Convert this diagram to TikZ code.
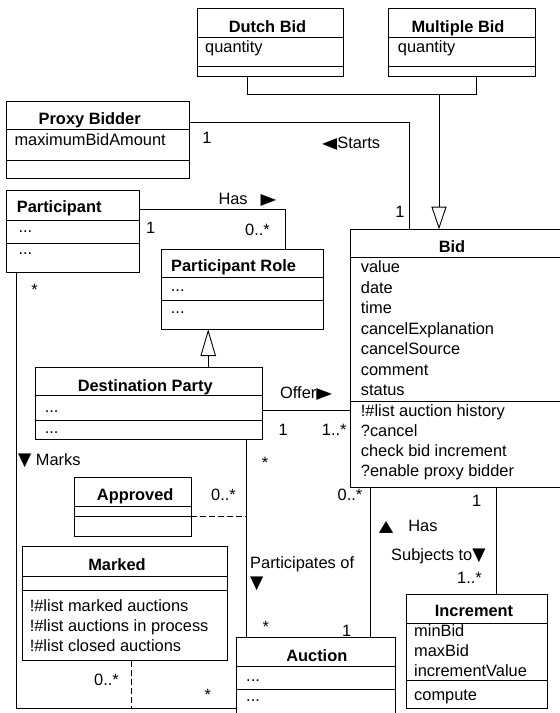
\documentclass[tikz,border=0pt]{standalone}
\usepackage{graphicx}
\usepackage{fontspec}
\setmainfont{Liberation Sans}
\newfontfamily\symfont{DejaVu Sans}
\usetikzlibrary{arrows.meta}

\newcommand{\umlfont}{\fontsize{16.4}{20}\selectfont}
\newcommand{\triright}{\scalebox{1.25}[0.95]{\symfont ▶}}
\newcommand{\trileft}{\scalebox{1.2}[0.95]{\symfont ◀}}
\newcommand{\tridown}{\scalebox{1.05}[1.1]{\symfont ▼}}
\newcommand{\triup}{\scalebox{1.15}[0.95]{\symfont ▲}}

\tikzstyle{classbox} = [rectangle, draw=black, line width=0.9pt, anchor=north west, inner sep=0pt, outer sep=0pt]
\tikzstyle{classname} = [font=\umlfont\bfseries, inner sep=0pt, anchor=base]
\tikzstyle{members} = [inner sep=0pt, anchor=north west, align=left, execute at begin node={\rule{0pt}{12pt}}]
\tikzstyle{lbl} = [inner sep=0pt, anchor=base west]
\tikzstyle{mult} = [inner sep=0pt, anchor=base]
\tikzstyle{assoc} = [line width=0.9pt]
\tikzstyle{dep} = [assoc, dash pattern=on 6pt off 3pt]
\tikzstyle{inherit} = [assoc, -{Triangle[open, length=22.6pt, width=15pt]}]

\begin{document}
\begin{tikzpicture}[x=1pt, y=-1pt, font=\umlfont]
\clip (0,0) rectangle (560,713);

% classes
\node (dutch) [classbox, minimum width=146pt, minimum height=68pt] at (197,8) {};
\node (multiple) [classbox, minimum width=147pt, minimum height=68pt] at (388,8) {};
\node (proxy) [classbox, minimum width=182.3pt, minimum height=76.6pt] at (6.7,101.7) {};
\node (participant) [classbox, minimum width=132.6pt, minimum height=82.3pt] at (6.7,190) {};
\node (role) [classbox, minimum width=161.5pt, minimum height=80.3pt] at (161.7,249) {};
\node (dest) [classbox, minimum width=227pt, minimum height=72.3pt] at (35.7,367) {};
\node (bid) [classbox, minimum width=230pt, minimum height=258pt] at (350.7,229.3) {};
\node (approved) [classbox, minimum width=117pt, minimum height=59.4pt] at (74,477.3) {};
\node (marked) [classbox, minimum width=205pt, minimum height=114.7pt] at (22.7,546) {};
\node (auction) [classbox, minimum width=158.3pt, minimum height=90pt] at (236.7,637) {};
\node (increment) [classbox, minimum width=140.5pt, minimum height=114.3pt] at (406.5,594) {};

% compartments
\draw [assoc] ([yshift=-29pt]dutch.north west) -- ([yshift=-29pt]dutch.north east) ([yshift=-58pt]dutch.north west) -- ([yshift=-58pt]dutch.north east);
\draw [assoc] ([yshift=-29pt]multiple.north west) -- ([yshift=-29pt]multiple.north east) ([yshift=-58pt]multiple.north west) -- ([yshift=-58pt]multiple.north east);
\draw [assoc] ([yshift=-27.6pt]proxy.north west) -- ([yshift=-27.6pt]proxy.north east) ([yshift=-58.3pt]proxy.north west) -- ([yshift=-58.3pt]proxy.north east);
\draw [assoc] ([yshift=-30.7pt]participant.north west) -- ([yshift=-30.7pt]participant.north east) ([yshift=-53.3pt]participant.north west) -- ([yshift=-53.3pt]participant.north east);
\draw [assoc] ([yshift=-28.3pt]role.north west) -- ([yshift=-28.3pt]role.north east) ([yshift=-51.7pt]role.north west) -- ([yshift=-51.7pt]role.north east);
\draw [assoc] ([yshift=-28.7pt]dest.north west) -- ([yshift=-28.7pt]dest.north east) ([yshift=-53pt]dest.north west) -- ([yshift=-53pt]dest.north east);
\draw [assoc] ([yshift=-28.4pt]bid.north west) -- ([yshift=-28.4pt]bid.north east) ([yshift=-172.4pt]bid.north west) -- ([yshift=-172.4pt]bid.north east);
\draw [assoc] ([yshift=-29.4pt]approved.north west) -- ([yshift=-29.4pt]approved.north east) ([yshift=-39.4pt]approved.north west) -- ([yshift=-39.4pt]approved.north east);
\draw [assoc] ([yshift=-30pt]marked.north west) -- ([yshift=-30pt]marked.north east) ([yshift=-44.7pt]marked.north west) -- ([yshift=-44.7pt]marked.north east);
\draw [assoc] ([yshift=-29.7pt]auction.north west) -- ([yshift=-29.7pt]auction.north east) ([yshift=-52pt]auction.north west) -- ([yshift=-52pt]auction.north east);
\draw [assoc] ([yshift=-29.3pt]increment.north west) -- ([yshift=-29.3pt]increment.north east) ([yshift=-86pt]increment.north west) -- ([yshift=-86pt]increment.north east);

% class names
\node (dutchname) [classname] at (267.5,32.3) {Dutch Bid};
\node (multiplename) [classname] at (458,32.3) {Multiple Bid};
\node (proxyname) [classname] at (89.7,124) {Proxy Bidder};
\node (participantname) [classname] at (59.2,212.3) {Participant};
\node (rolename) [classname] at (233.6,271.7) {Participant Role};
\node (destname) [classname] at (145.2,391.7) {Destination Party};
\node (bidname) [classname] at (452,252.7) {Bid};
\node (approvedname) [classname] at (135.2,500.7) {Approved};
\node (markedname) [classname] at (117,570) {Marked};
\node (auctionname) [classname] at (316.8,661) {Auction};
\node (incrementname) [classname] at (474,616.7) {Increment};

% attributes and operations
\node (dutchattr) [members] at (205,40.5) {quantity};
\node (multipleattr) [members] at (397.7,40.5) {quantity};
\node (proxyattr) [members] at (14.3,133.5) {maximumBidAmount};
\node (participantattr) [members] at (18.3,220) {...};
\node (participantops) [members] at (18.3,242.5) {...};
\node (roleattr) [members] at (170.7,279) {...};
\node (roleops) [members] at (170.7,301) {...};
\node (destattr) [members] at (44.6,400.7) {...};
\node (destops) [members] at (44.6,421.3) {...};
\node (bidattr) [members, font=\fontsize{16.4}{20.5}\selectfont] at (360.7,260.7) {value\\date\\time\\cancelExplanation\\cancelSource\\comment\\status};
\node (bidops) [members] at (360.7,404.7) {!\#list auction history\\?cancel\\check bid increment\\?enable proxy bidder};
\node (markedops) [members] at (29.6,599.7) {!\#list marked auctions\\!\#list auctions in process\\!\#list closed auctions};
\node (auctionattr) [members] at (246,669.7) {...};
\node (auctionops) [members] at (246,689.7) {...};
\node (incrementattr) [members] at (414,624.7) {minBid\\maxBid\\incrementValue};
\node (incrementops) [members] at (414,688) {compute};

% connectors
\coordinate (split) at (439,94.3);
\coordinate (floor) at (100,708.3);
\draw [assoc] ([xshift=-22.7pt]dutch.south) |- (split) -| ([xshift=15.2pt]multiple.south);
\draw [inherit] (split) -- (split |- bid.north);
\draw [assoc] ([yshift=17.3pt]proxy.east) -| ([xshift=58.8pt]bid.north west);
\draw [assoc] ([yshift=21.9pt]participant.east) -| ([xshift=123.3pt]role.north west);
\draw [inherit, -{Triangle[open, length=26.7pt, width=15.4pt]}] ([xshift=59pt]dest.north) -- ([xshift=59pt]dest.north |- role.south);
\draw [assoc] ([yshift=-6.9pt]dest.east) -- ([yshift=-6.9pt]dest.east -| bid.west);
\coordinate (destout) at ([xshift=97.3pt]dest.south);
\draw [assoc] (destout) -- (destout |- auction.north);
\coordinate (approvedout) at ([yshift=-39.2pt]approved.north east);
\draw [dep] (approvedout) -- (approvedout -| destout);
\draw [assoc] ([xshift=9.3pt]participant.south west) |- (floor -| auction.west);
\coordinate (markedout) at ([xshift=5.8pt]marked.south);
\draw [dep] (markedout) -- (markedout |- floor);
\coordinate (bidauction) at ([xshift=20.1pt]bid.south west);
\draw [assoc] (bidauction) -- (bidauction |- auction.north);
\coordinate (bidincrement) at ([xshift=145.3pt]bid.south west);
\draw [assoc] (bidincrement) -- (bidincrement |- increment.north);

% roles and multiplicities
\node (startsone) [mult] at (207,143) {1};
\node (starts) [lbl] at (322,148) {\trileft Starts};
\node (bidone) [mult] at (400,217.3) {1};
\node (has) [lbl] at (218.3,204) {Has\hspace{13pt}\triright};
\node (participantone) [mult] at (150.7,233.3) {1};
\node (rolemany) [lbl] at (245,235) {0..*};
\node (offer) [lbl] at (280,398.3) {Offer\triright};
\node (destone) [mult] at (283.3,435) {1};
\node (bidmany) [lbl] at (321.7,435) {1..*};
\node (destmany) [mult] at (265,468.8) {*};
\node (marks) [lbl] at (17.9,465) {\tridown{} Marks};
\node (participantmany) [mult] at (34.6,295.5) {*};
\node (approvedmany) [lbl] at (211,500) {0..*};
\node (bidzero) [lbl] at (337.5,500) {0..*};
\node (incrementone) [mult] at (476.8,506.7) {1};
\node (hasup) [lbl] at (378.6,531.7) {\triup\hspace{15pt}Has};
\node (subjects) [lbl] at (391,560) {Subjects to\tridown};
\node (incrementmany) [lbl] at (457,583.3) {1..*};
\node (participates) [members] at (250,556.3) {Participates of\\\tridown};
\node (auctionmany) [mult] at (265.7,632.8) {*};
\node (auctionone) [mult] at (346.7,636.7) {1};
\node (markedmany) [lbl] at (94,685) {0..*};
\node (floormany) [mult] at (207.7,700.5) {*};

\end{tikzpicture}
\end{document}
